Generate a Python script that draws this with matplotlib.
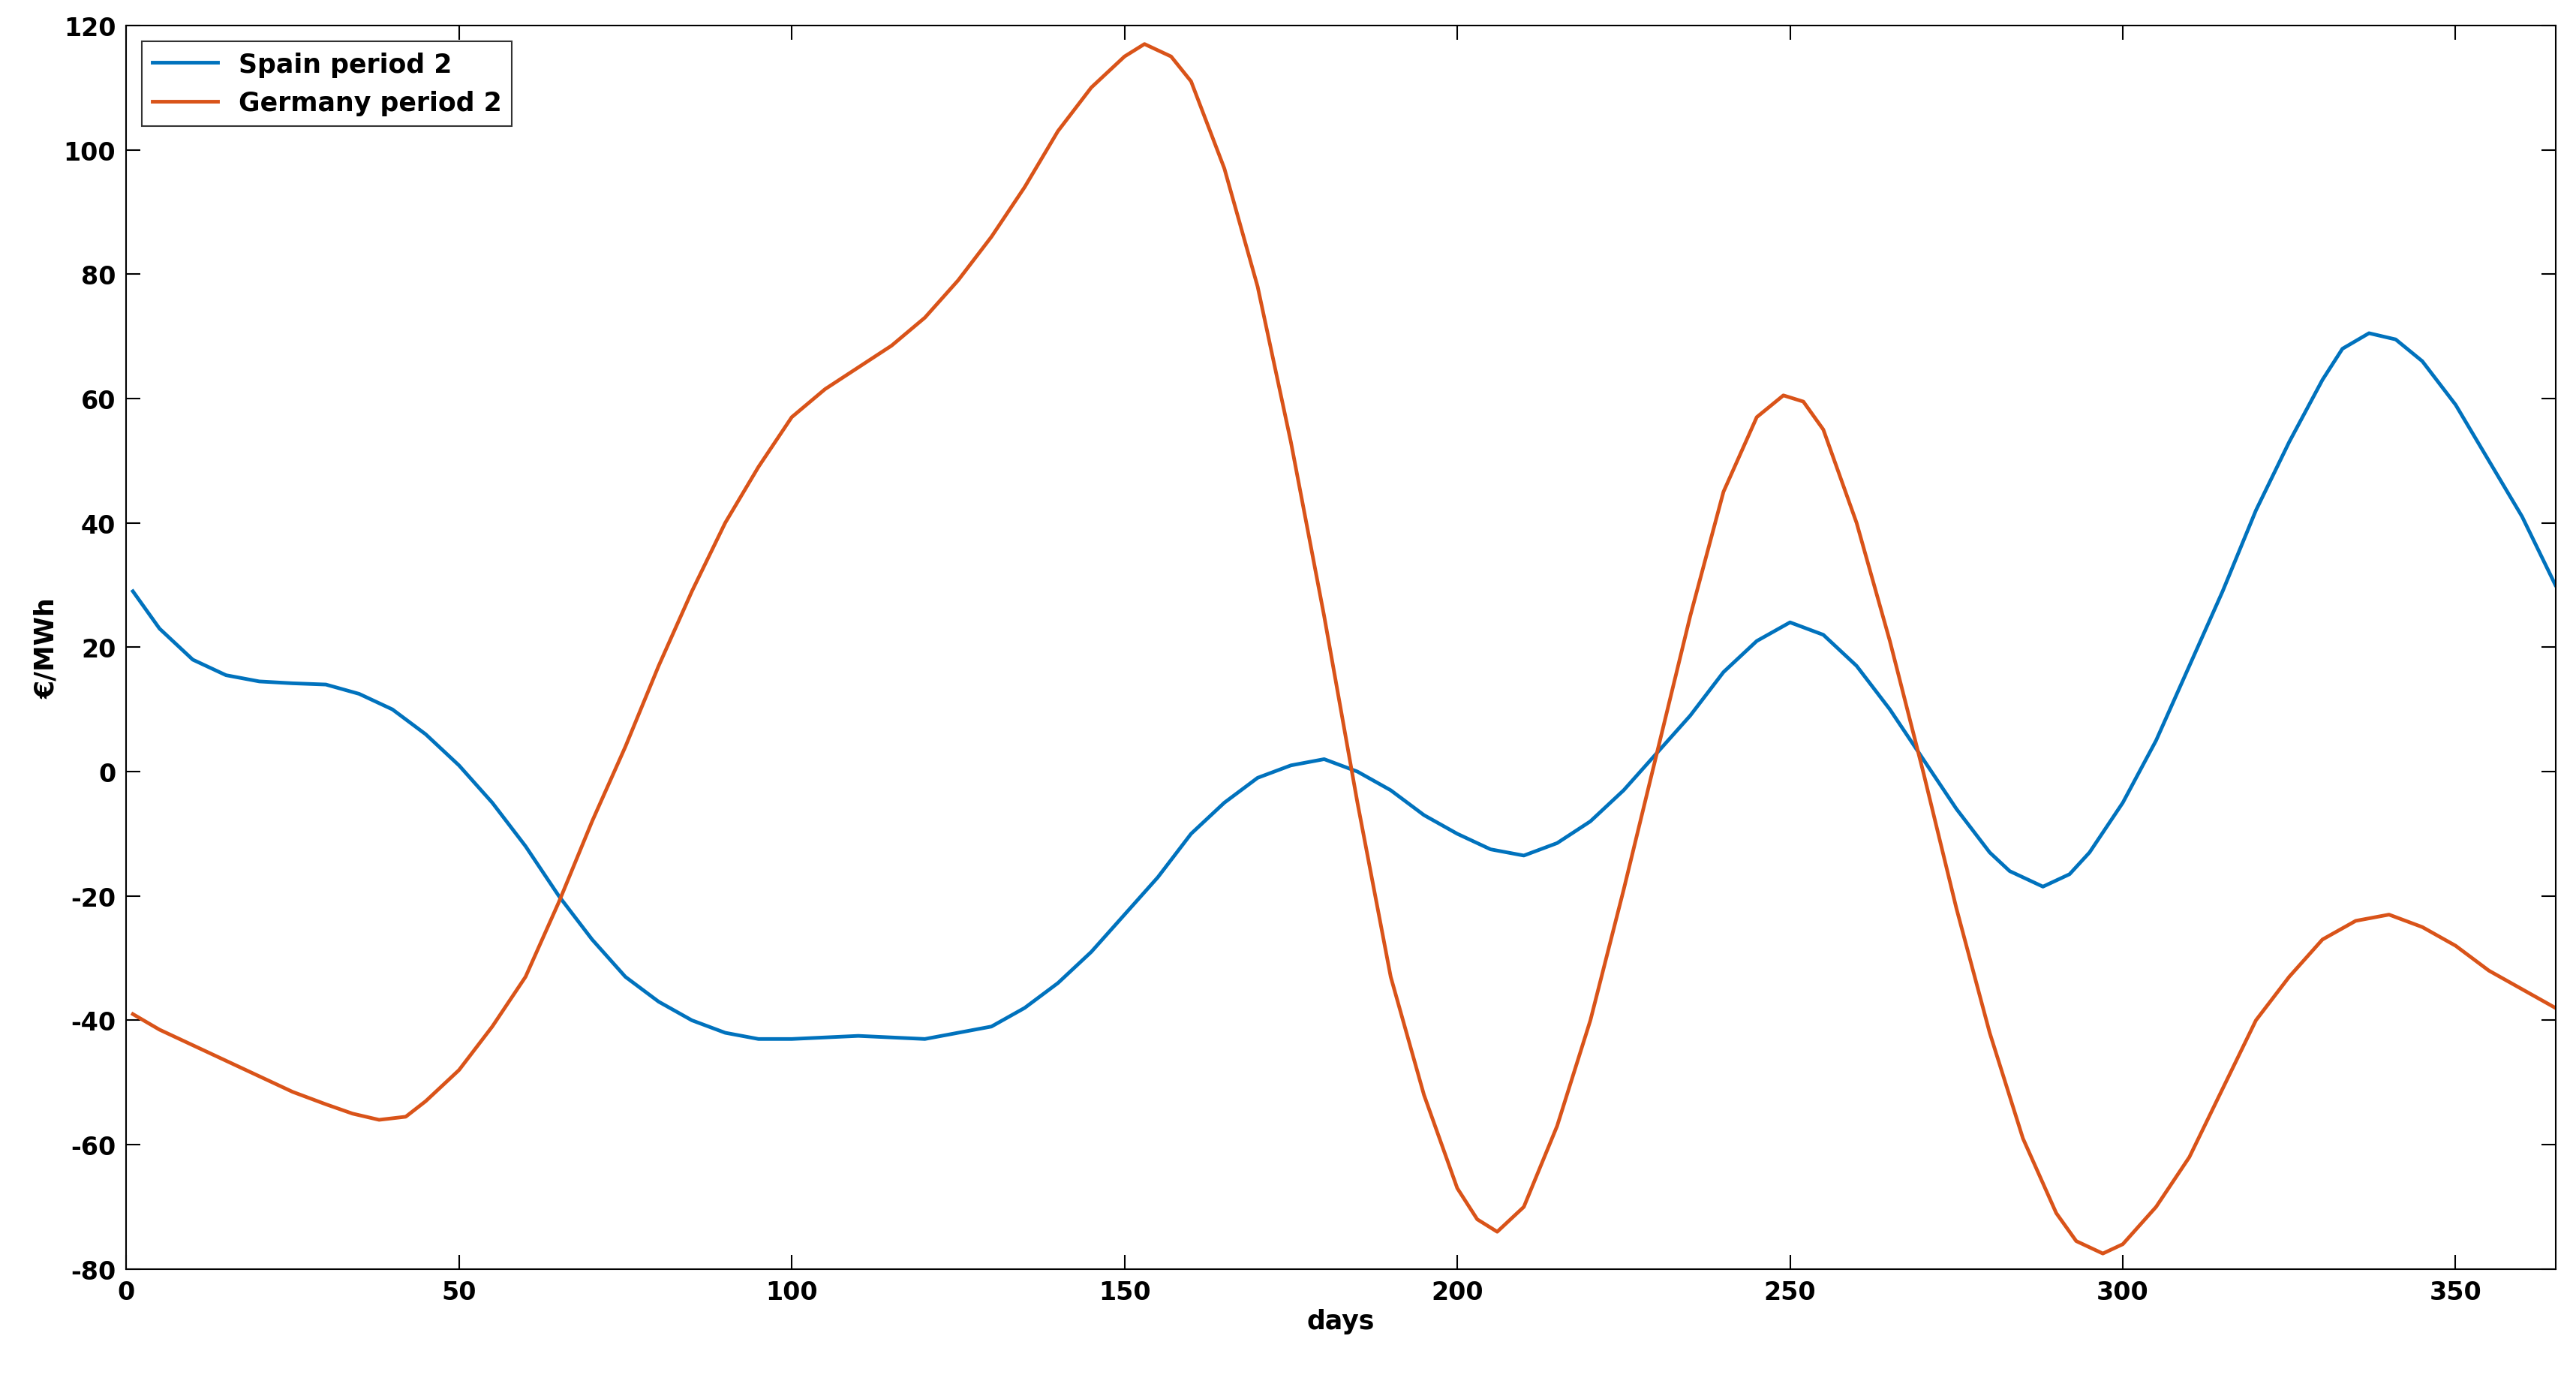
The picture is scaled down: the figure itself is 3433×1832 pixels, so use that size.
import matplotlib
matplotlib.use("Agg")
import matplotlib.pyplot as plt

plt.rcParams["axes.unicode_minus"] = False

# Values (days, EUR/MWh)
spain_days = [1, 5, 10, 15, 20, 25, 30, 35, 40, 45, 50, 55, 60, 65, 70, 75, 80, 85, 90, 95, 100,
              110, 120, 130, 135, 140, 145, 150, 155, 160, 165, 170, 175, 180, 185, 190, 195,
              200, 205, 210, 215, 220, 225, 230, 235, 240, 245, 250, 255, 260, 265, 270, 275,
              280, 283, 288, 292, 295, 300, 305, 310, 315, 320, 325, 330, 333, 337, 341, 345,
              350, 355, 360, 365]
spain_vals = [29, 23, 18, 15.5, 14.5, 14.2, 14, 12.5, 10, 6, 1, -5, -12, -20, -27, -33, -37, -40,
              -42, -43, -43, -42.5, -43, -41, -38, -34, -29, -23, -17, -10, -5, -1, 1, 2, 0, -3,
              -7, -10, -12.5, -13.5, -11.5, -8, -3, 3, 9, 16, 21, 24, 22, 17, 10, 2, -6,
              -13, -16, -18.5, -16.5, -13, -5, 5, 17, 29, 42, 53, 63, 68, 70.5, 69.5, 66,
              59, 50, 41, 30]

germany_days = [1, 5, 10, 15, 20, 25, 30, 34, 38, 42, 45, 50, 55, 60, 65, 70, 75, 80, 85, 90, 95,
                100, 105, 110, 115, 120, 125, 130, 135, 140, 145, 150, 153, 157, 160, 165, 170,
                175, 180, 185, 190, 195, 200, 203, 206, 210, 215, 220, 225, 230, 235, 240, 245,
                249, 252, 255, 260, 265, 270, 275, 280, 285, 290, 293, 297, 300, 305, 310, 315,
                320, 325, 330, 335, 340, 345, 350, 355, 360, 365]
germany_vals = [-39, -41.5, -44, -46.5, -49, -51.5, -53.5, -55, -56, -55.5, -53, -48, -41, -33, -21,
                -8, 4, 17, 29, 40, 49, 57, 61.5, 65, 68.5, 73, 79, 86, 94, 103, 110, 115, 117,
                115, 111, 97, 78, 53, 25, -5, -33, -52, -67, -72, -74, -70, -57, -40, -19, 3, 25,
                45, 57, 60.5, 59.5, 55, 40, 21, 0, -22, -42, -59, -71, -75.5, -77.5, -76, -70,
                -62, -51, -40, -33, -27, -24, -23, -25, -28, -32, -35, -38]

fig = plt.figure(figsize=(34.33, 18.33), dpi=100)
ax = fig.add_axes([0.049, 0.077, 0.943, 0.904])

ax.plot(spain_days, spain_vals, color="#0072BD", lw=3.5, label="Spain period 2")
ax.plot(germany_days, germany_vals, color="#D95319", lw=3.5, label="Germany period 2")

ax.set_xlim(0, 365)
ax.set_ylim(-80, 120)
ax.set_xticks(range(0, 351, 50))
ax.set_yticks(range(-80, 121, 20))
ax.tick_params(direction="in", length=14, width=1.5, top=True, right=True, labelsize=24, pad=10)
for lab in ax.get_xticklabels() + ax.get_yticklabels():
    lab.set_fontweight("bold")
for s in ax.spines.values():
    s.set_linewidth(1.5)
ax.set_xlabel("days", fontsize=25, fontweight="bold")
ax.set_ylabel("€/MWh", fontsize=25, fontweight="bold")

leg = ax.legend(loc="upper left", frameon=True, fancybox=False,
                edgecolor="black", handlelength=2.5, borderaxespad=0.6,
                prop={"weight": "bold", "size": 25})
leg.get_frame().set_linewidth(1.5)

fig.savefig("out.png", dpi=100)
